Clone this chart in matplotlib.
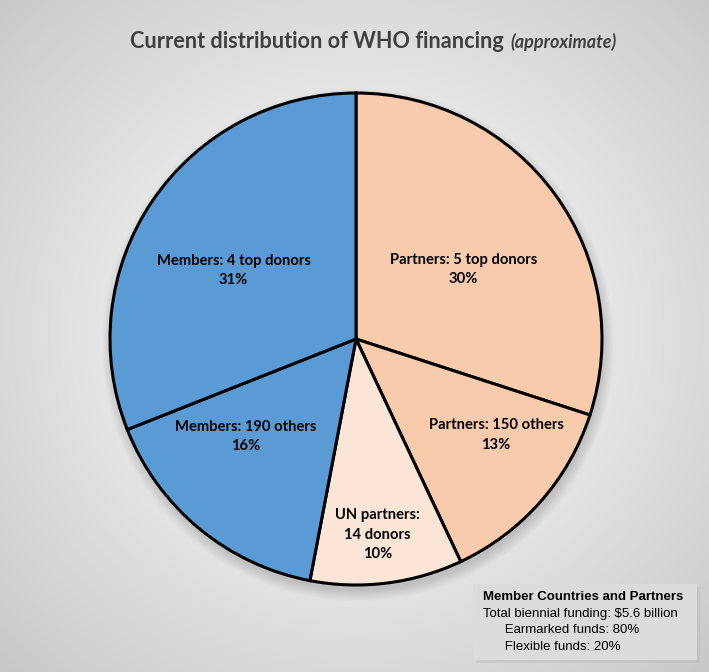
import numpy as np
import matplotlib
matplotlib.use("Agg")
import matplotlib.pyplot as plt
from matplotlib.patches import Rectangle, Circle

# slices, clockwise from 12 o'clock
names = ["Partners: 5 top donors", "Partners: 150 others", "UN partners:\n14 donors",
         "Members: 190 others", "Members: 4 top donors"]
shares = [30, 13, 10, 16, 31]
colors = ["#F8CBAD", "#F8CBAD", "#FBE5D6", "#5B9BD5", "#5B9BD5"]

box_title = "Member Countries and Partners"
box_lines = ["Total biennial funding: $5.6 billion",
             "      Earmarked funds: 80%",
             "      Flexible funds: 20%"]

W, H = 709, 672
fig = plt.figure(figsize=(W / 100, H / 100), dpi=100)

# radial grey background
bg = fig.add_axes([0, 0, 1, 1], zorder=0)
yy, xx = np.mgrid[0:H, 0:W]
d = np.sqrt(((xx - 356) / 520.0) ** 2 + ((yy - 330) / 500.0) ** 2)
g = 0.975 - 0.2 * np.clip(d, 0, 1) ** 1.3
bg.imshow(np.dstack([g, g, g]), extent=(0, W, H, 0), aspect="auto")
bg.set_xlim(0, W)
bg.set_ylim(H, 0)
bg.axis("off")

# soft shadow under the pie
cx, cy, r = 356, 339, 246
for k in range(12):
    bg.add_patch(Circle((cx + 2, cy + 6), r + 10 - k, color="black", alpha=0.012, lw=0))

# info box
bg.add_patch(Rectangle((476, 587), 224, 76, color="#bdbdbd", alpha=0.5, lw=0))
bg.add_patch(Rectangle((473, 584), 224, 76, color="#dcdcdc", lw=0))
bg.text(483, 597, box_title, fontsize=9.5, fontweight="bold", family="Liberation Sans",
        color="black", va="center")
for i, line in enumerate(box_lines):
    bg.text(483, 614 + 16.3 * i, line, fontsize=9.5, family="Liberation Sans",
            color="black", va="center")

# title
t1 = bg.text(130, 41, "Current distribution of WHO financing", fontsize=15.6, fontweight="bold",
             family="Lato", color="#404040", va="center")
fig.canvas.draw()
bb = t1.get_window_extent()
bg.text(130 + bb.width + 7, 42, "(approximate)", fontsize=13, fontweight="bold",
        style="italic", family="Lato", color="#404040", va="center")

# pie
pad = 1.02
ax = fig.add_axes([(cx - r * pad) / W, (H - cy - r * pad) / H, 2 * r * pad / W, 2 * r * pad / H],
                  zorder=2)
wedges, _ = ax.pie(shares, colors=colors, startangle=90, counterclock=False,
                   wedgeprops=dict(edgecolor="black", linewidth=2.2))
ax.set_xlim(-pad, pad)
ax.set_ylim(-pad, pad)
ax.set_aspect("equal")

# label placement (radius fraction, angle shift in degrees)
label_dist = [0.52, 0.69, 0.80, 0.60, 0.57]
label_shift = [-3, 7, -1, -9, 5]
for w, name, s, ld, sh in zip(wedges, names, shares, label_dist, label_shift):
    ang = np.deg2rad((w.theta1 + w.theta2) / 2 + sh)
    ax.text(ld * np.cos(ang), ld * np.sin(ang), f"{name}\n{s}%", ha="center", va="center",
            fontsize=10.6, fontweight="bold", family="Lato", color="black", linespacing=1.5)

fig.savefig("out.png", dpi=100)
